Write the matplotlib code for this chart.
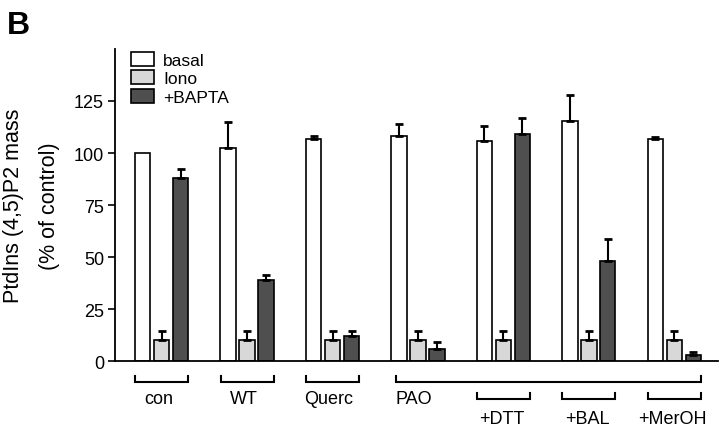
import numpy as np
import matplotlib
matplotlib.use('Agg')
import matplotlib.pyplot as plt
from matplotlib.patches import Patch

plt.rcParams['font.family'] = ['Liberation Sans', 'DejaVu Sans']

# values (% of control)
groups = ['con', 'WT', 'Querc', 'PAO', '+DTT', '+BAL', '+MerOH']
basal = [100, 102.5, 106.5, 108, 106, 115.5, 106.5]
basal_err = [0, 12.2, 1.8, 5.8, 7.2, 12.5, 1.4]
iono = [10, 10, 10, 10, 10, 10, 10]
iono_err = [4.7, 4.7, 4.7, 4.7, 4.7, 4.7, 4.7]
bapta = [88, 39, 12.2, 5.8, 109, 48, 3]
bapta_err = [4.5, 2.2, 2.4, 3.2, 7.8, 10.7, 1.2]

series_names = ['basal', 'Iono', '+BAPTA']
colors = ['white', '#d8d8d8', '#4f4f4f']

fig = plt.figure(figsize=(7.2, 4.27), dpi=100)
ax = fig.add_axes([0.16, 0.152, 0.837, 0.731])

x = np.arange(len(groups))
pitch = 0.222
width = 0.18
for k, (vals, errs) in enumerate([(basal, basal_err), (iono, iono_err), (bapta, bapta_err)]):
    xs = x + (k - 1) * pitch
    ax.bar(xs, vals, width=width, color=colors[k], edgecolor='black', linewidth=1.2, zorder=2)
    # control basal is the reference point, no error bar
    has = np.array(errs) > 0
    ax.errorbar(xs[has], np.array(vals)[has], yerr=[np.zeros(has.sum()), np.array(errs)[has]],
                fmt='none', ecolor='black', elinewidth=1.5, capsize=3, capthick=2, zorder=3)

ax.set_xlim(-0.544, 6.51)
ax.set_ylim(0, 150)
ax.set_yticks([0, 25, 50, 75, 100, 125])
ax.tick_params(axis='y', direction='out', length=5, width=1.2, labelsize=13, pad=3)
ax.set_xticks([])
ax.spines['top'].set_visible(False)
ax.spines['right'].set_visible(False)
ax.spines['left'].set_linewidth(1.3)
ax.spines['bottom'].set_linewidth(1.3)
ax.set_ylabel('PtdIns (4,5)P2 mass\n(% of control)', fontsize=15.5, linespacing=1.95, labelpad=10)

# brackets under the axis
half = 0.31
def bracket(x0, x1, y, h=2.8):
    ax.plot([x0, x0, x1, x1], [y + h, y, y, y + h], color='black', lw=1.5,
            clip_on=False, solid_joinstyle='miter')

for i in range(3):
    bracket(x[i] - half, x[i] + half, -10.1)
    ax.text(x[i] - 0.04, -17.8, groups[i], ha='center', va='center', fontsize=13)

bracket(x[3] - 0.26, x[6] + half, -10.1)
ax.text(x[3] - 0.26, -17.8, groups[3], ha='left', va='center', fontsize=13)
for i in range(4, 7):
    bracket(x[i] - half, x[i] + half, -18.3)
    ax.text(x[i] - 0.02, -27.4, groups[i], ha='center', va='center', fontsize=13)

handles = [Patch(facecolor=c, edgecolor='black', linewidth=1.2) for c in colors]
ax.legend(handles, series_names, loc='upper left', bbox_to_anchor=(0.006, 1.03),
          frameon=False, fontsize=12.5, handlelength=1.3, handleheight=0.85,
          labelspacing=0.15, handletextpad=0.55, borderpad=0.2)

fig.text(0.01, 0.975, 'B', fontsize=23, fontweight='bold', ha='left', va='top')

fig.savefig('out.png', dpi=100)
